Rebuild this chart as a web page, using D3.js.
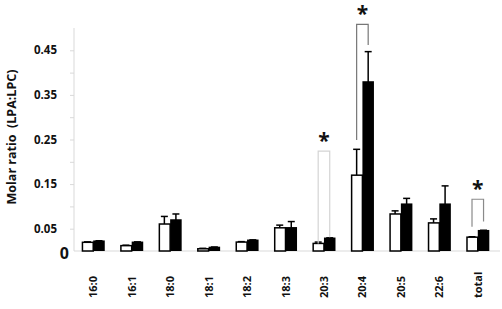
<!DOCTYPE html>
<html lang="en">
<head>
<meta charset="utf-8">
<title>Molar ratio LPA:LPC</title>
<style>
  body { margin:0; background:white; }
  svg text { font-family:"Open Sans", "Liberation Sans", sans-serif; font-weight:bold; fill:#111; }
  .axis path, .axis line { stroke:#d9d9d9; }
</style>
</head>
<body>
<svg class="chart" width="502" height="309"></svg>
<script src="https://cdnjs.cloudflare.com/ajax/libs/d3/7.8.5/d3.min.js"></script>
<script>
// data
var categories = ["16:0","16:1","18:0","18:1","18:2","18:3","20:3","20:4","20:5","22:6","total"];
var whiteVals  = [0.0195,0.012,0.0605,0.005,0.020,0.052,0.017,0.170,0.083,0.063,0.031];
var whiteErr   = [0.001,0.001,0.017,0.001,0.001,0.006,0.003,0.058,0.007,0.009,0.001];
var blackVals  = [0.022,0.0195,0.0695,0.008,0.024,0.052,0.0285,0.379,0.105,0.105,0.0455];
var blackErr   = [0.001,0.001,0.0135,0.001,0.001,0.014,0.001,0.068,0.013,0.041,0.001];
var yTicks     = [0.05,0.15,0.25,0.35,0.45];
var minorTicks = [0.10,0.20,0.30,0.40];
// significance brackets: category, bracket top, left/right leg ends (in y units), stroke
var sigCats    = ["20:3","20:4","total"];
var sigTop     = [0.224,0.508,0.116];
var sigLeft    = [0.017,0.249,0.0545];
var sigRight   = [0.031,0.462,0.066];
var sigColor   = ["#d4d4d4","#777","#8a8a8a"];

var svg = d3.select(".chart");
var left = 74, right = 497, base = 251;

var x = d3.scaleBand().domain(categories).range([left, right]).paddingInner(0.4).paddingOuter(0.2);
var y = d3.scaleLinear().domain([0, 0.5]).range([base, 28]);
var half = x.bandwidth() / 2;

// y axis
var yAxis = d3.axisLeft(y).tickValues(yTicks.concat(minorTicks)).tickSize(4).tickFormat("");
svg.append("g").attr("class", "axis")
  .attr("transform", "translate(" + left + ",0)")
  .call(yAxis)
  .call(function(g){ g.select(".domain").attr("d", "M0," + y(0.5) + "V" + base); });

svg.selectAll(".ylab").data(yTicks).enter().append("text")
  .attr("class", "ylab")
  .attr("x", 57).attr("y", function(d){ return y(d); })
  .attr("dy", "0.35em").attr("text-anchor", "end")
  .style("font-size", "11.5px")
  .text(function(d){ return d.toFixed(2); });

svg.append("text").attr("x", 69).attr("y", base + 2).attr("dy", "0.35em")
  .attr("text-anchor", "end").style("font-size", "16px").text("0");

// y title
svg.append("text")
  .attr("transform", "translate(16," + 137 + ") rotate(-90)")
  .attr("text-anchor", "middle").style("font-size", "12.5px")
  .attr("xml:space", "preserve")
  .text("Molar ratio  (LPA:LPC)");

// baseline
svg.append("line").attr("x1", left).attr("x2", 500)
  .attr("y1", base).attr("y2", base).attr("stroke", "#d9d9d9");

// bars
var groups = svg.selectAll(".pair").data(categories).enter().append("g")
  .attr("class", "pair")
  .attr("transform", function(d){ return "translate(" + x(d) + ",0)"; });

function errBar(g, val, err, cx) {
  g.append("line").attr("x1", cx).attr("x2", cx)
    .attr("y1", y(val)).attr("y2", y(val + err))
    .attr("stroke", "#000").attr("stroke-width", 1.5);
  g.append("line").attr("x1", cx - 3.5).attr("x2", cx + 3.5)
    .attr("y1", y(val + err)).attr("y2", y(val + err))
    .attr("stroke", "#000").attr("stroke-width", 1.5);
}

groups.each(function(d, i){
  var g = d3.select(this);
  errBar(g, whiteVals[i], whiteErr[i], half / 2);
  errBar(g, blackVals[i], blackErr[i], half + half / 2);
  g.append("rect").attr("x", 0.75).attr("width", half - 0.75)
    .attr("y", y(whiteVals[i])).attr("height", base - y(whiteVals[i]))
    .attr("fill", "white").attr("stroke", "#000").attr("stroke-width", 1.5);
  g.append("rect").attr("x", half).attr("width", half)
    .attr("y", y(blackVals[i]) - 0.75).attr("height", base - y(blackVals[i]) + 0.75)
    .attr("fill", "#000");
});

// x labels
svg.selectAll(".xlab").data(categories).enter().append("text")
  .attr("class", "xlab")
  .attr("transform", function(d){ return "translate(" + (x(d) + half + 4) + ",298) rotate(-90)"; })
  .attr("text-anchor", "start").style("font-size", "11px")
  .text(function(d){ return d; });

// significance brackets
sigCats.forEach(function(c, i){
  var x1 = x(c) + half / 2, x2 = x(c) + half + half / 2;
  svg.append("path")
    .attr("d", "M" + x1 + "," + y(sigLeft[i]) + "V" + y(sigTop[i]) + "H" + x2 + "V" + y(sigRight[i]))
    .attr("fill", "none").attr("stroke", sigColor[i]).attr("stroke-width", 1.2);
  svg.append("text")
    .attr("x", (x1 + x2) / 2).attr("y", y(sigTop[i]) - 18)
    .attr("dy", "0.7em").attr("text-anchor", "middle")
    .style("font-size", "21px").text("*");
});
</script>
</body>
</html>
